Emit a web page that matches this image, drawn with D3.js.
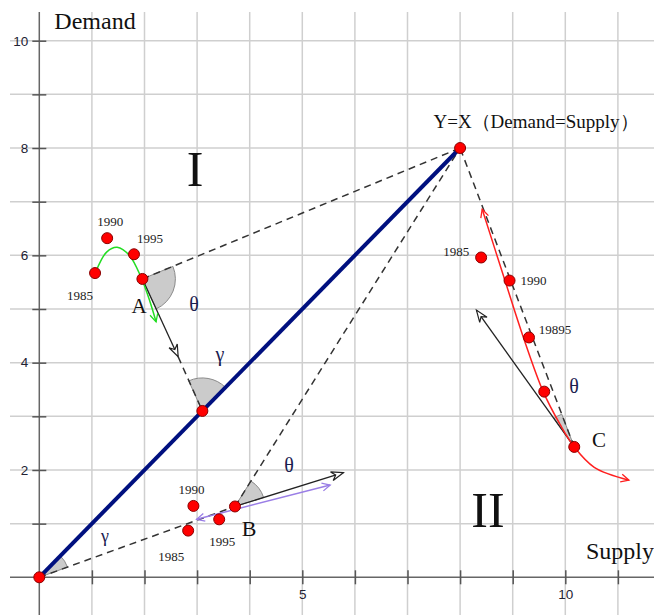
<!DOCTYPE html>
<html>
<head>
<meta charset="utf-8">
<script src="https://cdn.jsdelivr.net/npm/d3@7"></script>
<style>
body { margin: 0; background: #fff; }
svg { display: block; }
</style>
</head>
<body>
<svg id="chart" width="654" height="615"></svg>
<script>
// key points (Supply, Demand)
var origin = [0, 0]
var eqPoint = [8, 8]
var footPoint = [3.1, 3.1]

// group A (quadrant I)
var yearsA = ["1985", "1990", "1995"]
var supplyA = [1.06, 1.29, 1.80]
var demandA = [5.67, 6.32, 6.02]
var pointA = [1.96, 5.56]
var arrowA = [2.64, 4.11]
var greenX = [1.09, 1.28, 1.48, 1.72, 1.93, 2.10, 2.22]
var greenY = [5.73, 6.06, 6.15, 5.99, 5.60, 5.15, 4.76]

// group B (quadrant II, below the line)
var yearsB = ["1985", "1990", "1995"]
var supplyB = [2.83, 2.93, 3.42]
var demandB = [0.87, 1.33, 1.08]
var pointB = [3.72, 1.32]
var arrowB = [5.78, 1.95]
var purpleFrom = [2.99, 1.08]
var purpleTo = [5.53, 1.72]

// group C
var yearsC = ["1985", "1990", "19895", ""]
var supplyC = [8.40, 8.94, 9.31, 9.60]
var demandC = [5.96, 5.53, 4.47, 3.46]
var pointC = [10.17, 2.43]
var arrowC = [8.31, 4.98]
var redX = [8.42, 8.85, 9.20, 9.58, 9.90, 10.17, 10.55, 11.21]
var redY = [6.86, 5.54, 4.48, 3.46, 2.85, 2.43, 2.05, 1.81]

// tick labels
var yTickLabels = [2, 4, 6, 8, 10]
var xTickLabels = [5, 10]

// label offsets in pixels (from the dot)
var offA = [[-15, 27], [3, -12], [16, -11]]
var offB = [[-17, 30], [-2, -12], [3, 27]]
var offC = [[-25, -1], [24, 4], [26, -3], [0, 0]]

var svg = d3.select("#chart")
var x = d3.scaleLinear().domain([0, 10]).range([39.3, 565.3])
var y = d3.scaleLinear().domain([0, 10]).range([577.3, 40.7])

var defs = svg.append("defs")
function vMarker(id, color) {
  defs.append("marker").attr("id", id)
    .attr("viewBox", "-10 -6 12 12").attr("markerWidth", 12).attr("markerHeight", 12)
    .attr("refX", 0).attr("refY", 0).attr("orient", "auto-start-reverse")
    .attr("markerUnits", "userSpaceOnUse")
    .append("path").attr("d", "M-8,-4 L0,0 L-8,4")
    .attr("fill", "none").attr("stroke", color).attr("stroke-width", 1.3)
}
vMarker("vRed", "#ff2020")
vMarker("vGreen", "#22dd22")
vMarker("vPurple", "#9a7ee6")
defs.append("marker").attr("id", "arrowOpen")
  .attr("viewBox", "-14 -6 16 12").attr("markerWidth", 16).attr("markerHeight", 12)
  .attr("refX", 0).attr("refY", 0).attr("orient", "auto")
  .attr("markerUnits", "userSpaceOnUse")
  .append("path").attr("d", "M0,0 L-12,-4.5 L-8,0 L-12,4.5 Z")
  .attr("fill", "#fff").attr("stroke", "#222").attr("stroke-width", 1.2)

// grid
var grid = svg.append("g").attr("stroke", "#cfcfcf").attr("stroke-width", 1.5)
grid.selectAll("line.v").data(d3.range(1, 12)).enter().append("line")
  .attr("x1", d => x(d)).attr("x2", d => x(d)).attr("y1", 12).attr("y2", 615)
grid.selectAll("line.h").data(d3.range(1, 11)).enter().append("line")
  .attr("x1", 10).attr("x2", 654).attr("y1", d => y(d)).attr("y2", d => y(d))

// axes
svg.append("line").attr("x1", x(0)).attr("x2", x(0)).attr("y1", 12).attr("y2", 615)
  .attr("stroke", "#666").attr("stroke-width", 1.5)
svg.append("line").attr("x1", 10).attr("x2", 654).attr("y1", y(0)).attr("y2", y(0))
  .attr("stroke", "#666").attr("stroke-width", 1.5)

svg.append("g").attr("transform", "translate(" + x(0) + ",0)")
  .call(d3.axisLeft(y).tickValues(d3.range(1, 11)).tickSize(7).tickPadding(4)
    .tickFormat(d => yTickLabels.includes(d) ? d : ""))
svg.append("g").attr("transform", "translate(" + x(0) + ",0)")
  .call(d3.axisRight(y).tickValues(d3.range(1, 11)).tickSize(7).tickFormat(""))
svg.append("g").attr("transform", "translate(0," + y(0) + ")")
  .call(d3.axisBottom(x).tickValues(d3.range(1, 12)).tickSize(7).tickPadding(5)
    .tickFormat(d => xTickLabels.includes(d) ? d : ""))
svg.append("g").attr("transform", "translate(0," + y(0) + ")")
  .call(d3.axisTop(x).tickValues(d3.range(1, 12)).tickSize(7).tickFormat(""))
svg.selectAll(".domain").remove()
svg.selectAll(".tick line").attr("stroke", "#555").attr("stroke-width", 1.5)
svg.selectAll(".tick text").attr("font-family", "Liberation Sans, Arial, sans-serif")
  .attr("font-size", 13.5).attr("fill", "#223")

// angle wedges
function wedge(c, p1, p2, r) {
  var cx = x(c[0]), cy = y(c[1])
  function ang(p) { return Math.atan2(x(p[0]) - cx, -(y(p[1]) - cy)) }
  var a0 = ang(p1), a1 = ang(p2)
  var d = a1 - a0
  while (d > Math.PI) d -= 2 * Math.PI
  while (d < -Math.PI) d += 2 * Math.PI
  svg.append("path")
    .attr("d", d3.arc()({ innerRadius: 0, outerRadius: r, startAngle: a0, endAngle: a0 + d }))
    .attr("transform", "translate(" + cx + "," + cy + ")")
    .attr("fill", "#cbcbcb").attr("stroke", "#8a8a8a").attr("stroke-width", 1)
}
wedge(pointA, eqPoint, arrowA, 33)
wedge(footPoint, pointA, eqPoint, 33)
wedge(origin, eqPoint, pointB, 30)
wedge(pointB, arrowB, eqPoint, 30)
wedge(pointC, eqPoint, arrowC, 35)

// dashed lines
var dashed = [[pointA, eqPoint], [pointB, eqPoint], [pointC, eqPoint],
  [origin, pointB], [arrowA, footPoint]]
svg.selectAll("line.dash").data(dashed).enter().append("line")
  .attr("x1", d => x(d[0][0])).attr("y1", d => y(d[0][1]))
  .attr("x2", d => x(d[1][0])).attr("y2", d => y(d[1][1]))
  .attr("stroke", "#333").attr("stroke-width", 1.5).attr("stroke-dasharray", "7,5")

// Y = X line
svg.append("line").attr("x1", x(origin[0])).attr("y1", y(origin[1]))
  .attr("x2", x(eqPoint[0])).attr("y2", y(eqPoint[1]))
  .attr("stroke", "#00107f").attr("stroke-width", 4)

// black arrows
var arrows = [[pointA, arrowA], [pointB, arrowB], [pointC, arrowC]]
svg.selectAll("line.arr").data(arrows).enter().append("line")
  .attr("x1", d => x(d[0][0])).attr("y1", d => y(d[0][1]))
  .attr("x2", d => x(d[1][0])).attr("y2", d => y(d[1][1]))
  .attr("stroke", "#222").attr("stroke-width", 1.3).attr("marker-end", "url(#arrowOpen)")

// purple double arrow
svg.append("line").attr("x1", x(purpleFrom[0])).attr("y1", y(purpleFrom[1]))
  .attr("x2", x(purpleTo[0])).attr("y2", y(purpleTo[1]))
  .attr("stroke", "#9a7ee6").attr("stroke-width", 1.5)
  .attr("marker-start", "url(#vPurple)").attr("marker-end", "url(#vPurple)")

// curves
var line = d3.line().x(d => x(d[0])).y(d => y(d[1])).curve(d3.curveCatmullRom)
svg.append("path").attr("d", line(d3.zip(greenX, greenY)))
  .attr("fill", "none").attr("stroke", "#22dd22").attr("stroke-width", 1.5)
  .attr("marker-end", "url(#vGreen)")
svg.append("path").attr("d", line(d3.zip(redX, redY)))
  .attr("fill", "none").attr("stroke", "#ff2020").attr("stroke-width", 1.5)
  .attr("marker-start", "url(#vRed)").attr("marker-end", "url(#vRed)")

// dots
var dots = d3.zip(supplyA, demandA).concat([pointA])
  .concat(d3.zip(supplyB, demandB)).concat([pointB])
  .concat(d3.zip(supplyC, demandC)).concat([pointC])
  .concat([origin, eqPoint, footPoint])
svg.selectAll("circle").data(dots).enter().append("circle")
  .attr("cx", d => x(d[0])).attr("cy", d => y(d[1])).attr("r", 5.5)
  .attr("fill", "#ff0000").attr("stroke", "#8a0000").attr("stroke-width", 1)

// year labels
function yearLabels(xs, ys, names, offs) {
  svg.append("g").selectAll("text").data(names).enter().append("text")
    .attr("x", (d, i) => x(xs[i]) + offs[i][0])
    .attr("y", (d, i) => y(ys[i]) + offs[i][1])
    .attr("text-anchor", "middle")
    .attr("font-family", "Liberation Serif, Times New Roman, serif")
    .attr("font-size", 13).attr("fill", "#222")
    .text(d => d)
}
yearLabels(supplyA, demandA, yearsA, offA)
yearLabels(supplyB, demandB, yearsB, offB)
yearLabels(supplyC, demandC, yearsC, offC)

// other text
var texts = [
  ["Demand", 95, 29, 24, "#111"],
  ["Supply", 620, 559, 24, "#111"],
  ["Y=X（Demand=Supply）", 536, 128, 19, "#111"],
  ["I", 195, 186, 50, "#111"],
  ["II", 488, 527, 50, "#111"],
  ["A", 139, 313, 21, "#111"],
  ["B", 249, 536, 22, "#111"],
  ["C", 599, 447, 21, "#111"],
  ["θ", 194, 311, 20, "#1a2050"],
  ["θ", 289, 472, 20, "#1a2050"],
  ["θ", 574, 393, 20, "#1a2050"],
  ["γ", 220, 361, 20, "#1a2050"],
  ["γ", 105, 542, 18, "#1a2050"]
]
svg.append("g").selectAll("text").data(texts).enter().append("text")
  .attr("x", d => d[1]).attr("y", d => d[2])
  .attr("text-anchor", "middle")
  .attr("font-family", "Liberation Serif, Times New Roman, serif")
  .attr("font-size", d => d[3]).attr("fill", d => d[4])
  .text(d => d[0])
</script>
</body>
</html>
